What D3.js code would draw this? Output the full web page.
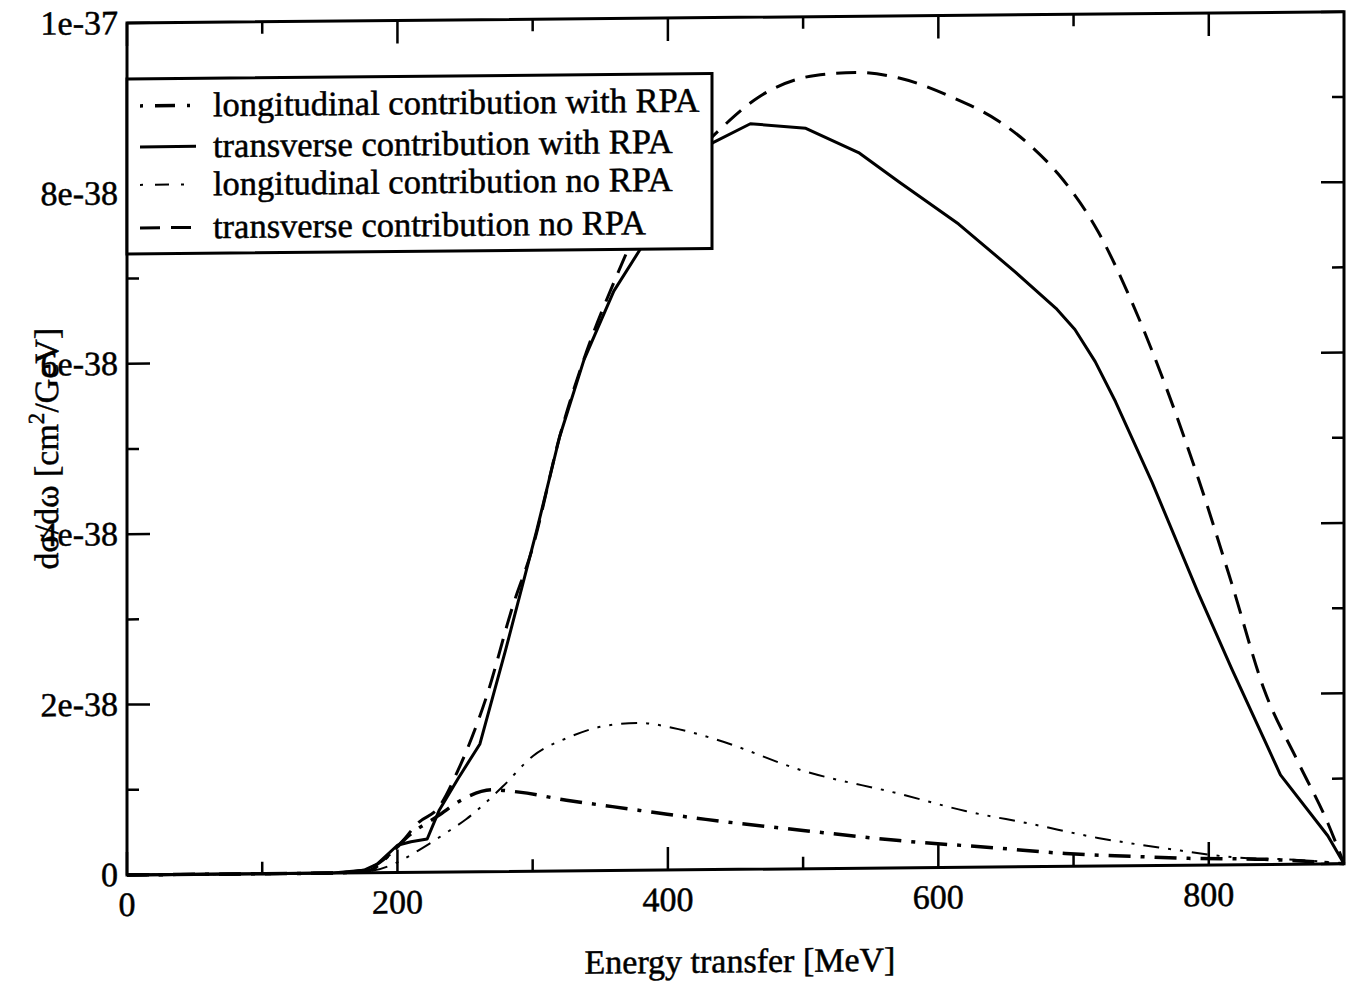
<!DOCTYPE html>
<html><head><meta charset="utf-8">
<script src="https://cdn.jsdelivr.net/npm/d3@7"></script>
<style>body{margin:0;background:#fff}svg{display:block}text{font-family:"Liberation Serif","Times New Roman",serif;fill:#000;stroke:#000;stroke-width:0.5}</style>
</head><body>
<svg id="c" width="1352" height="985"></svg>
<script>
// values in units of 1e-38 cm^2/GeV
const transRPA_x = [0,100,150,175,185,200,210,222,231,245,261,280,303,320,338,360,380,405,433,461,502,541,571,615,657,687,701,716,731,758,792,817,853,888,900];
const transRPA_y = [0,0,0,0.03,0.1,0.32,0.36,0.39,0.73,1.1,1.5,2.6,4.0,5.1,6.0,6.8,7.3,7.9,8.53,8.75,8.69,8.40,8.05,7.55,6.98,6.55,6.30,5.92,5.45,4.50,3.20,2.30,1.05,0.33,0];
const transNoRPA_x = [0,100,150,175,185,200,216,230,245,266,285,300,320,340,360,380,400,420,438,467,509,539,571,610,645,669,689,718,743,768,792,817,841,866,888,900];
const transNoRPA_y = [0,0,0,0.03,0.1,0.3,0.59,0.75,1.2,2.06,3.1,3.8,5.1,6.1,6.9,7.6,8.1,8.4,8.68,9.06,9.31,9.34,9.27,9.04,8.75,8.45,8.12,7.45,6.62,5.63,4.55,3.30,2.05,1.20,0.48,0];
const longRPA_x = [0,100,150,180,190,209,230,248,270,290,325,359,393,428,500,571,645,694,743,785,841,900];
const longRPA_y = [0,0,0,0.03,0.15,0.44,0.66,0.85,0.96,0.93,0.83,0.75,0.67,0.59,0.45,0.32,0.22,0.15,0.11,0.08,0.06,0];
const longNoRPA_x = [0,100,150,180,200,219,235,251,278,300,327,354,379,403,435,500,571,620,669,718,768,817,866,900];
const longNoRPA_y = [0,0,0,0.02,0.12,0.29,0.45,0.62,1.0,1.35,1.57,1.70,1.73,1.67,1.53,1.15,0.87,0.66,0.50,0.33,0.20,0.09,0.05,0];
const xTicks = [0,200,400,600,800];
const xMinor = [100,300,500,700];
const yTicks = [0,2,4,6,8,10];
const yTickLabels = ["0","2e-38","4e-38","6e-38","8e-38","1e-37"];
const yMinor = [1,3,5,7,9];
const legendLabels = ["longitudinal contribution with RPA","transverse contribution with RPA","longitudinal contribution no RPA","transverse contribution no RPA"];

const L=127,R=1344,T=23,B=875;
const x=d3.scaleLinear().domain([0,900]).range([L,R]);
const y=d3.scaleLinear().domain([0,10]).range([B,T]);
// the scanned original is slightly sheared (right side ~11px higher)
const svg=d3.select("#c").append("g").attr("transform",`translate(${L},0) skewY(-0.53) translate(${-L},0)`);

const styles=[
 {xs:longRPA_x,ys:longRPA_y,w:3.5,dash:"22,10,4,10",curve:d3.curveMonotoneX},
 {xs:transRPA_x,ys:transRPA_y,w:3,dash:null,curve:d3.curveLinear},
 {xs:longNoRPA_x,ys:longNoRPA_y,w:2,dash:"16,9,3,9,3,9",curve:d3.curveMonotoneX},
 {xs:transNoRPA_x,ys:transNoRPA_y,w:3,dash:"20,11",curve:d3.curveMonotoneX}
];
styles.forEach(s=>{
  const line=d3.line().x(d=>x(d[0])).y(d=>y(d[1])).curve(s.curve);
  svg.append("path").attr("d",line(s.xs.map((v,i)=>[v,s.ys[i]])))
    .attr("fill","none").attr("stroke","#000").attr("stroke-width",s.w)
    .attr("stroke-dasharray",s.dash).attr("stroke-linejoin","round");
});

// frame
svg.append("rect").attr("x",L).attr("y",T).attr("width",R-L).attr("height",B-T)
  .attr("fill","none").attr("stroke","#000").attr("stroke-width",3);

// ticks (inward, all sides)
const g=svg.append("g").attr("stroke","#000").attr("stroke-width",2.5);
xTicks.forEach(v=>{g.append("line").attr("x1",x(v)).attr("x2",x(v)).attr("y1",B).attr("y2",B-23);
  g.append("line").attr("x1",x(v)).attr("x2",x(v)).attr("y1",T).attr("y2",T+23);});
xMinor.forEach(v=>{g.append("line").attr("x1",x(v)).attr("x2",x(v)).attr("y1",B).attr("y2",B-12);
  g.append("line").attr("x1",x(v)).attr("x2",x(v)).attr("y1",T).attr("y2",T+12);});
yTicks.forEach(v=>{g.append("line").attr("x1",L).attr("x2",L+23).attr("y1",y(v)).attr("y2",y(v));
  g.append("line").attr("x1",R).attr("x2",R-23).attr("y1",y(v)).attr("y2",y(v));});
yMinor.forEach(v=>{g.append("line").attr("x1",L).attr("x2",L+12).attr("y1",y(v)).attr("y2",y(v));
  g.append("line").attr("x1",R).attr("x2",R-12).attr("y1",y(v)).attr("y2",y(v));});

xTicks.forEach(v=>svg.append("text").attr("x",x(v)).attr("y",B+41).attr("text-anchor","middle")
  .attr("font-size",34).text(String(v)));
yTicks.forEach((v,i)=>svg.append("text").attr("x",L-9).attr("y",y(v)+11).attr("text-anchor","end")
  .attr("font-size",34).text(yTickLabels[i]));

svg.append("text").attr("x",740).attr("y",978).attr("text-anchor","middle").attr("font-size",34).text("Energy transfer [MeV]");
const yt=svg.append("text").attr("transform","translate(58,448) rotate(-90)").attr("text-anchor","middle").attr("font-size",34);
yt.append("tspan").text("dσ/dω [cm");
yt.append("tspan").attr("dy",-14).attr("font-size",23).text("2");
yt.append("tspan").attr("dy",14).text("/GeV]");

// legend
svg.append("rect").attr("x",L).attr("y",79).attr("width",712-L).attr("height",175)
  .attr("fill","#fff").attr("stroke","#000").attr("stroke-width",3);
legendLabels.forEach((t,i)=>{
  const cy=[106,147,185,228][i];
  svg.append("line").attr("x1",140).attr("x2",196).attr("y1",cy).attr("y2",cy)
   .attr("stroke","#000").attr("stroke-width",styles[i].w)
   .attr("stroke-dasharray",i===0?"3,12,20,12":i===2?"3,12,14,12":styles[i].dash);
  svg.append("text").attr("x",213).attr("y",cy+11).attr("font-size",34.5).text(t);
});
</script>
</body></html>
